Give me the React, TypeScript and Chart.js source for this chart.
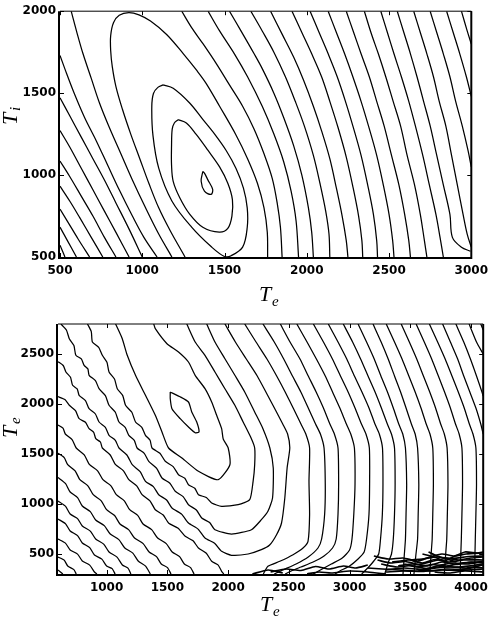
import React, { useEffect, useRef } from "react";
import { Chart, registerables } from "chart.js";
Chart.register(...registerables);

type Pt = [number, number];

// ---------------- Top panel (Te vs Ti) ----------------
const topXTicks = [500, 1000, 1500, 2000, 2500, 3000];
const topYTicks = [500, 1000, 1500, 2000];

const topLevel1: Pt[] = [[1368,1022],[1358,962],[1378,902],[1418,882],[1428,912],[1398,972],[1378,1012],[1368,1022]];
const topLevel2: Pt[] = [[1218,1338],[1268,1318],[1328,1248],[1400,1150],[1470,1050],[1520,950],[1548,850],[1545,750],[1520,675],[1468,652],[1368,682],[1288,762],[1228,862],[1188,962],[1178,1062],[1178,1180],[1182,1280],[1195,1318],[1218,1338]];
const topLevel3: Pt[] = [[1128,1550],[1188,1530],[1288,1440],[1368,1340],[1440,1250],[1510,1150],[1570,1040],[1615,920],[1638,800],[1638,680],[1610,560],[1540,508],[1500,503],[1420,562],[1300,682],[1180,842],[1100,1042],[1065,1242],[1058,1418],[1068,1498],[1095,1535],[1128,1550]];
const topLevel4: Pt[] = [[1260,500],[1170,660],[1100,800],[1040,950],[985,1100],[930,1250],[880,1400],[840,1540],[818,1660],[808,1760],[808,1850],[825,1930],[860,1975],[918,1992],[980,1978],[1050,1940],[1148,1858],[1250,1740],[1330,1640],[1388,1560],[1470,1420],[1568,1248],[1640,1100],[1700,950],[1740,800],[1760,650],[1762,500]];
const topLevel5a: Pt[] = [[568,2000],[600,1880],[640,1740],[690,1590],[740,1440],[800,1290],[870,1130],[940,970],[1020,800],[1100,640],[1180,500]];
const topLevel5b: Pt[] = [[1240,2000],[1300,1900],[1370,1800],[1450,1680],[1530,1550],[1610,1420],[1680,1280],[1740,1130],[1790,980],[1820,830],[1840,680],[1850,500]];
const topLevel6a: Pt[] = [[500,1730],[540,1620],[590,1490],[650,1350],[720,1210],[790,1060],[860,910],[940,750],[1010,620],[1090,500]];
const topLevel6b: Pt[] = [[1400,2000],[1470,1880],[1560,1740],[1640,1600],[1730,1418],[1800,1250],[1860,1080],[1905,900],[1935,720],[1950,500]];
const topLevel7a: Pt[] = [[500,1472],[560,1360],[630,1230],[700,1100],[770,970],[840,830],[920,670],[1000,500]];
const topLevel7b: Pt[] = [[1530,2000],[1600,1880],[1680,1740],[1730,1648],[1800,1500],[1860,1350],[1920,1180],[1970,1000],[2010,800],[2030,650],[2040,500]];
const topLevel8a: Pt[] = [[500,1272],[560,1170],[630,1040],[700,910],[770,780],[840,650],[920,500]];
const topLevel8b: Pt[] = [[1660,2000],[1730,1878],[1800,1750],[1870,1600],[1930,1450],[1985,1300],[2040,1120],[2080,950],[2115,780],[2135,640],[2140,500]];
const topLevel9a: Pt[] = [[500,1086],[560,990],[630,870],[700,750],[770,620],[840,500]];
const topLevel9b: Pt[] = [[1780,2000],[1850,1860],[1920,1720],[1980,1580],[2040,1420],[2090,1270],[2140,1100],[2180,920],[2215,750],[2240,600],[2250,500]];
const topLevel10a: Pt[] = [[500,932],[560,840],[620,740],[690,620],[760,500]];
const topLevel10b: Pt[] = [[1910,2000],[1970,1870],[2030,1740],[2090,1600],[2140,1450],[2190,1290],[2240,1110],[2280,930],[2315,750],[2335,600],[2340,500]];
const topLevel11a: Pt[] = [[500,792],[550,710],[610,610],[680,500]];
const topLevel11b: Pt[] = [[2020,2000],[2075,1870],[2130,1740],[2185,1600],[2235,1450],[2280,1300],[2330,1120],[2370,940],[2405,760],[2425,600],[2430,500]];
const topLevel12a: Pt[] = [[500,682],[545,600],[600,500]];
const topLevel12b: Pt[] = [[2130,2000],[2180,1870],[2230,1740],[2280,1600],[2330,1450],[2375,1300],[2425,1120],[2465,940],[2500,760],[2522,600],[2530,500]];
const topLevel13a: Pt[] = [[500,572],[530,500]];
const topLevel13b: Pt[] = [[2240,2000],[2285,1870],[2330,1740],[2380,1600],[2425,1450],[2470,1300],[2515,1120],[2560,940],[2595,760],[2620,600],[2630,500]];
const topLevel14: Pt[] = [[2350,2000],[2390,1870],[2435,1740],[2480,1600],[2525,1450],[2570,1300],[2610,1120],[2655,940],[2690,760],[2715,600],[2730,500]];
const topLevel15: Pt[] = [[2450,2000],[2490,1870],[2530,1740],[2575,1600],[2620,1450],[2660,1300],[2705,1120],[2745,940],[2785,760],[2810,620],[2830,500]];
const topLevel16: Pt[] = [[2550,2000],[2590,1870],[2630,1740],[2670,1600],[2710,1450],[2750,1300],[2790,1120],[2830,940],[2870,760],[2885,620],[2940,560],[2995,535]];
const topLevel17: Pt[] = [[2650,2000],[2690,1870],[2730,1740],[2770,1600],[2805,1450],[2845,1300],[2880,1120],[2915,940],[2950,760],[2975,640],[3000,560]];
const topLevel18: Pt[] = [[2750,2000],[2790,1870],[2830,1740],[2870,1600],[2905,1450],[2945,1300],[2980,1150],[3000,1050]];
const topLevel19: Pt[] = [[2850,2000],[2890,1870],[2930,1740],[2970,1600],[3000,1480]];
const topLevel20: Pt[] = [[2940,2000],[2975,1880],[3000,1800]];

const topContours: Pt[][] = [
  topLevel1, topLevel2, topLevel3, topLevel4, topLevel5a, topLevel5b, topLevel6a, topLevel6b,
  topLevel7a, topLevel7b, topLevel8a, topLevel8b, topLevel9a, topLevel9b, topLevel10a, topLevel10b,
  topLevel11a, topLevel11b, topLevel12a, topLevel12b, topLevel13a, topLevel13b, topLevel14, topLevel15,
  topLevel16, topLevel17, topLevel18, topLevel19, topLevel20,
];

// ---------------- Bottom panel (Te vs Te) ----------------
const botXTicks = [1000, 1500, 2000, 2500, 3000, 3500, 4000];
const botYTicks = [500, 1000, 1500, 2000, 2500];

const botLevel1: Pt[] = [[1524,2120],[1600,2075],[1674,2020],[1701,1920],[1742,1820],[1761,1720],[1729,1713],[1674,1770],[1606,1853],[1538,1953],[1524,2053],[1524,2120]];
const botLevel2: Pt[] = [[1074,2800],[1129,2653],[1170,2487],[1238,2287],[1320,2087],[1401,1887],[1456,1720],[1510,1560],[1620,1460],[1756,1327],[1919,1243],[2015,1393],[2001,1560],[1960,1650],[1947,1753],[1906,1887],[1865,2020],[1810,2153],[1729,2287],[1674,2420],[1592,2520],[1497,2603],[1401,2753],[1388,2800]];
const botLevel3: Pt[] = [[843,2800],[874,2724],[883,2620],[935,2567],[965,2487],[1003,2417],[1020,2320],[1065,2250],[1088,2153],[1133,2084],[1156,1987],[1208,1917],[1238,1820],[1290,1767],[1320,1687],[1358,1637],[1374,1560],[1439,1507],[1483,1427],[1548,1374],[1592,1293],[1644,1257],[1674,1193],[1726,1157],[1756,1093],[1821,1065],[1865,1010],[1947,977],[2083,993],[2178,1043],[2206,1227],[2219,1393],[2219,1560],[2192,1653],[2124,1820],[2056,1987],[1974,2153],[1892,2320],[1810,2487],[1729,2620],[1660,2800]];
const botLevel4: Pt[] = [[624,2800],[669,2740],[693,2653],[731,2584],[747,2487],[792,2451],[815,2387],[846,2351],[856,2287],[908,2234],[938,2153],[990,2084],[1020,1987],[1072,1917],[1102,1820],[1153,1767],[1183,1687],[1228,1637],[1251,1560],[1310,1507],[1347,1427],[1412,1357],[1456,1260],[1521,1207],[1565,1127],[1630,1074],[1674,993],[1739,940],[1783,860],[1848,815],[1892,743],[2028,700],[2192,743],[2274,843],[2328,927],[2366,1060],[2372,1360],[2344,1560],[2287,1753],[2219,1920],[2137,2120],[2056,2287],[1974,2453],[1892,2620],[1824,2800]];
const botLevel5: Pt[] = [[600,2423],[643,2385],[665,2320],[703,2267],[720,2187],[758,2151],[774,2087],[826,2034],[856,1953],[908,1900],[938,1820],[990,1767],[1020,1687],[1072,1637],[1102,1560],[1167,1490],[1211,1393],[1276,1324],[1320,1227],[1385,1174],[1429,1093],[1494,1040],[1538,960],[1617,899],[1674,810],[1753,749],[1810,660],[1889,607],[1947,527],[2028,487],[2165,500],[2274,543],[2342,590],[2399,693],[2440,810],[2467,1060],[2486,1360],[2508,1560],[2490,1700],[2450,1800],[2390,1940],[2320,2100],[2240,2280],[2150,2450],[2060,2620],[1974,2800]];
const botLevel6a: Pt[] = [[600,2073],[657,2044],[693,1987],[744,1934],[774,1853],[826,1817],[856,1753],[894,1717],[911,1653],[949,1620],[965,1560],[1030,1490],[1074,1393],[1139,1332],[1183,1243],[1248,1182],[1292,1093],[1357,1032],[1401,943],[1466,890],[1510,810],[1589,757],[1647,677],[1712,632],[1756,560],[1821,507],[1865,427],[1917,391],[1947,327],[1965,300]];
const botLevel6b: Pt[] = [[2290,300],[2328,377],[2426,427],[2535,493],[2617,560],[2658,627],[2671,893],[2666,1227],[2671,1560],[2640,1700],[2600,1800],[2540,1950],[2470,2120],[2400,2280],[2320,2450],[2230,2620],[2137,2800]];
const botLevel7a: Pt[] = [[600,1790],[641,1759],[660,1700],[716,1644],[750,1560],[816,1491],[860,1393],[926,1332],[970,1243],[1036,1182],[1080,1093],[1146,1032],[1190,943],[1256,886],[1300,800],[1371,744],[1420,660],[1491,604],[1540,520],[1601,474],[1640,400],[1691,364],[1720,300]];
const botLevel7b: Pt[] = [[2380,300],[2450,340],[2560,400],[2660,470],[2740,560],[2770,650],[2795,900],[2800,1200],[2790,1560],[2760,1700],[2720,1800],[2660,1960],[2599,2120],[2530,2280],[2458,2450],[2380,2620],[2287,2800]];
const botLevel8a: Pt[] = [[600,1507],[651,1464],[680,1393],[741,1332],[780,1243],[846,1182],[890,1093],[956,1032],[1000,943],[1066,885],[1110,800],[1181,744],[1230,660],[1301,604],[1350,520],[1411,474],[1450,400],[1501,364],[1530,300]];
const botLevel8b: Pt[] = [[2470,300],[2520,330],[2600,370],[2700,420],[2790,480],[2860,560],[2890,650],[2905,900],[2910,1200],[2905,1560],[2875,1700],[2838,1800],[2785,1960],[2725,2120],[2660,2280],[2592,2450],[2510,2620],[2430,2800]];
const botLevel9a: Pt[] = [[600,1265],[661,1206],[700,1120],[761,1064],[800,980],[866,924],[910,840],[981,784],[1030,700],[1101,644],[1150,560],[1216,509],[1260,430],[1321,379],[1360,300]];
const botLevel9b: Pt[] = [[2700,300],[2760,340],[2850,400],[2940,460],[3000,540],[3020,650],[3035,900],[3045,1200],[3040,1560],[3010,1700],[2974,1800],[2920,1960],[2860,2120],[2800,2280],[2727,2450],[2650,2620],[2566,2800]];
const botLevel10a: Pt[] = [[600,1030],[661,979],[700,900],[761,854],[800,780],[866,729],[910,650],[976,599],[1020,520],[1086,469],[1130,390],[1176,359],[1200,300]];
const botLevel10b: Pt[] = [[2880,300],[2920,330],[3000,380],[3070,450],[3120,520],[3140,650],[3160,900],[3165,1200],[3163,1560],[3135,1700],[3098,1800],[3045,1960],[2988,2120],[2925,2280],[2859,2450],[2785,2620],[2702,2800]];
const botLevel11a: Pt[] = [[600,850],[661,804],[700,730],[761,684],[800,610],[861,564],[900,490],[961,449],[1000,380],[1046,354],[1070,300]];
const botLevel11b: Pt[] = [[3100,300],[3150,360],[3200,430],[3240,500],[3255,650],[3270,900],[3275,1200],[3271,1560],[3245,1700],[3209,1800],[3160,1960],[3102,2120],[3040,2280],[2977,2450],[2905,2620],[2825,2800]];
const botLevel12a: Pt[] = [[600,650],[661,609],[700,540],[761,499],[800,430],[861,389],[900,320],[920,300]];
const botLevel12b: Pt[] = [[3290,300],[3320,420],[3345,500],[3360,650],[3370,900],[3375,1200],[3370,1560],[3345,1700],[3311,1800],[3262,1960],[3210,2120],[3152,2280],[3091,2450],[3025,2620],[2948,2800]];
const botLevel13a: Pt[] = [[600,470],[651,439],[680,380],[731,344],[750,300]];
const botLevel13b: Pt[] = [[3440,300],[3450,480],[3460,650],[3465,900],[3470,1200],[3460,1560],[3438,1700],[3405,1800],[3360,1960],[3312,2120],[3258,2280],[3203,2450],[3140,2620],[3070,2800]];
const botLevel14a: Pt[] = [[600,340],[640,300]];
const botLevel14b: Pt[] = [[3530,300],[3545,480],[3560,650],[3565,900],[3570,1200],[3560,1560],[3540,1700],[3509,1800],[3465,1960],[3420,2120],[3370,2280],[3318,2450],[3260,2620],[3193,2800]];
const botLevel15: Pt[] = [[3660,300],[3670,480],[3680,650],[3685,900],[3690,1200],[3685,1560],[3662,1700],[3631,1800],[3588,1960],[3540,2120],[3488,2280],[3432,2450],[3370,2620],[3302,2800]];
const botLevel16: Pt[] = [[3780,300],[3790,480],[3800,650],[3805,900],[3810,1200],[3803,1560],[3780,1700],[3750,1800],[3708,1960],[3660,2120],[3608,2280],[3553,2450],[3492,2620],[3425,2800]];
const botLevel17: Pt[] = [[3910,300],[3915,480],[3920,650],[3925,900],[3930,1200],[3925,1560],[3902,1700],[3872,1800],[3830,1960],[3782,2120],[3731,2280],[3676,2450],[3615,2620],[3548,2800]];
const botLevel18: Pt[] = [[4030,300],[4032,480],[4035,650],[4040,900],[4045,1200],[4040,1560],[4016,1700],[3986,1800],[3944,1960],[3895,2120],[3843,2280],[3787,2450],[3725,2620],[3657,2800]];
const botLevel19: Pt[] = [[4100,1700],[4080,1800],[4040,1960],[3990,2120],[3940,2280],[3890,2450],[3830,2620],[3766,2800]];
const botLevel20: Pt[] = [[4100,2080],[4090,2120],[4045,2280],[3995,2450],[3940,2620],[3875,2800]];
const botLevel21: Pt[] = [[4100,2500],[4045,2620],[3984,2800]];
const botLevel22: Pt[] = [[4100,2740],[4080,2800]];

const botContours: Pt[][] = [
  botLevel1, botLevel2, botLevel3, botLevel4, botLevel5, botLevel6a, botLevel6b, botLevel7a, botLevel7b,
  botLevel8a, botLevel8b, botLevel9a, botLevel9b, botLevel10a, botLevel10b, botLevel11a, botLevel11b,
  botLevel12a, botLevel12b, botLevel13a, botLevel13b, botLevel14a, botLevel14b, botLevel15, botLevel16,
  botLevel17, botLevel18, botLevel19, botLevel20, botLevel21, botLevel22,
];

// noisy low-temperature band near the bottom edge
const botBand1: Pt[] = [[3200,480],[3320,450],[3440,460],[3560,430],[3660,470],[3760,500],[3860,480],[3960,500],[4100,510]];
const botBand2: Pt[] = [[3230,440],[3340,410],[3460,425],[3570,395],[3690,430],[3800,455],[3900,440],[4000,460],[4100,470]];
const botBand3: Pt[] = [[3260,400],[3390,370],[3510,385],[3630,355],[3750,390],[3860,410],[3970,400],[4100,430]];
const botBand4: Pt[] = [[3150,360],[3270,350],[3410,340],[3560,330],[3710,360],[3830,370],[3960,360],[4100,390]];
const botBand5: Pt[] = [[3300,320],[3450,330],[3600,325],[3750,340],[3900,335],[4100,350]];
const botBand6: Pt[] = [[3400,380],[3520,400],[3640,380],[3760,420],[3880,395],[4000,420],[4100,410]];
const botBand7: Pt[] = [[3500,440],[3600,410],[3700,445],[3820,420],[3940,440],[4100,440]];
const botBand8: Pt[] = [[3350,420],[3480,440],[3600,450],[3720,470],[3850,455],[3980,475],[4100,480]];
const botBand9: Pt[] = [[3600,500],[3700,470],[3780,430],[3850,470],[3950,520],[4050,510],[4100,520]];
const botBand10: Pt[] = [[3650,520],[3720,480],[3800,450],[3880,420]];
const botBand11: Pt[] = [[3300,340],[3450,360],[3600,345],[3750,375],[3900,370],[4100,400]];
const botBand12: Pt[] = [[2350,320],[2480,350],[2600,335],[2720,375],[2830,350],[2950,380],[3050,360],[3150,390]];
const botBand13: Pt[] = [[2200,300],[2330,340],[2450,310]];
const botBand14: Pt[] = [[2650,300],[2750,320],[2850,310],[3000,330],[3150,320],[3300,300]];
const botBand15: Pt[] = [[3450,400],[3560,370],[3680,395],[3800,380],[3920,410],[4100,420]];
const botBand16: Pt[] = [[3550,350],[3680,330],[3800,350],[3920,345],[4040,365],[4100,360]];
const botBand17: Pt[] = [[3700,320],[3820,310],[3950,330],[4100,320]];

const botBands: Pt[][] = [
  botBand1, botBand2, botBand3, botBand4, botBand5, botBand6, botBand7, botBand8, botBand9,
  botBand10, botBand11, botBand12, botBand13, botBand14, botBand15, botBand16, botBand17,
];

const framePlugin = {
  id: "frame",
  afterDatasetsDraw(chart: any) {
    const { ctx, chartArea, scales } = chart;
    const { left, top, right, bottom } = chartArea;
    const x = scales.x, y = scales.y;
    ctx.save();
    ctx.strokeStyle = "#000";
    const seg = (x1: number, y1: number, x2: number, y2: number, w: number) => {
      ctx.lineWidth = w;
      ctx.beginPath();
      ctx.moveTo(x1, y1);
      ctx.lineTo(x2, y2);
      ctx.stroke();
    };
    seg(left, top, right, top, 1);
    seg(right, top, right, bottom, 2);
    seg(left - 1, top, left - 1, bottom + 1, 2);
    seg(left - 2, bottom + 1, right + 1, bottom + 1, 2);
    const L = 4;
    x.ticks.forEach((t: any) => {
      const px = Math.round(x.getPixelForValue(t.value)) + 0.5;
      seg(px, bottom, px, bottom - L, 1);
      seg(px, top, px, top + L, 1);
    });
    y.ticks.forEach((t: any) => {
      const py = Math.round(y.getPixelForValue(t.value)) + 0.5;
      seg(left, py, left + L, py, 1);
      seg(right, py, right - L, py, 1);
    });
    ctx.restore();
  },
};

type PanelProps = {
  canvasTop: number; width: number; height: number;
  plotLeft: number; plotTop: number; plotRight: number; plotBottom: number;
  xMin: number; xMax: number; yMin: number; yMax: number;
  xTicks: number[]; yTicks: number[]; lines: Pt[][]; bands?: Pt[][]; tension: number;
};

function ContourPanel(p: PanelProps) {
  const ref = useRef<HTMLCanvasElement>(null);
  useEffect(() => {
    if (!ref.current) return;
    const tickFont = { family: "'DejaVu Sans', sans-serif", size: 12, weight: "bold" as const };
    const mk = (pts: Pt[], w: number) => ({
      data: pts.map(([x, y]) => ({ x, y })),
      showLine: true,
      pointRadius: 0,
      pointHoverRadius: 0,
      borderColor: "#000",
      borderWidth: w,
      tension: p.tension,
      fill: false,
    });
    const chart = new Chart(ref.current, {
      type: "scatter",
      data: {
        datasets: [
          ...p.lines.map((pts) => mk(pts, 1.25)),
          ...(p.bands || []).map((pts) => mk(pts, 1.7)),
        ],
      },
      options: {
        animation: false,
        responsive: false,
        events: [],
        layout: { padding: { left: 0, top: p.plotTop, right: p.width - p.plotRight, bottom: 0 } },
        plugins: { legend: { display: false }, tooltip: { enabled: false } },
        scales: {
          x: {
            type: "linear",
            min: p.xMin,
            max: p.xMax,
            afterBuildTicks: (s: any) => { s.ticks = p.xTicks.map((v) => ({ value: v })); },
            afterFit: (s: any) => { s.height = p.height - p.plotBottom; },
            grid: { display: false, drawTicks: false },
            border: { display: false },
            ticks: { color: "#000", font: tickFont, padding: 7, maxRotation: 0, autoSkip: false, callback: (v: any) => String(v) },
          },
          y: {
            type: "linear",
            min: p.yMin,
            max: p.yMax,
            afterBuildTicks: (s: any) => { s.ticks = p.yTicks.map((v) => ({ value: v })); },
            afterFit: (s: any) => { s.width = p.plotLeft; },
            grid: { display: false, drawTicks: false },
            border: { display: false },
            ticks: { color: "#000", font: tickFont, padding: 4, autoSkip: false, callback: (v: any) => String(v) },
          },
        },
      },
      plugins: [framePlugin],
    });
    return () => chart.destroy();
  }, []);
  return (
    <canvas
      ref={ref}
      width={p.width}
      height={p.height}
      style={{ position: "absolute", left: 0, top: p.canvasTop, width: p.width, height: p.height }}
    />
  );
}

const serif = "'Liberation Serif', 'Times New Roman', serif";

function HLabel({ left, top, main, sub }: { left: number; top: number; main: string; sub: string }) {
  return (
    <div style={{ position: "absolute", left, top, fontFamily: serif, fontStyle: "italic", lineHeight: 1, whiteSpace: "nowrap" }}>
      <span style={{ position: "absolute", left: 0, top: 0, fontSize: 22 }}>{main}</span>
      <span style={{ position: "absolute", left: 13, top: 11, fontSize: 15 }}>{sub}</span>
    </div>
  );
}

function VLabel({ left, top, main, sub }: { left: number; top: number; main: string; sub: string }) {
  return (
    <div
      style={{
        position: "absolute", left, top, width: 40, height: 30,
        transform: "rotate(-90deg)", transformOrigin: "0 0",
        fontFamily: serif, fontStyle: "italic", lineHeight: 1, whiteSpace: "nowrap",
      }}
    >
      <span style={{ position: "absolute", left: 0, top: 0, fontSize: 22 }}>{main}</span>
      <span style={{ position: "absolute", left: 14, top: 9, fontSize: 15 }}>{sub}</span>
    </div>
  );
}

export default function App() {
  return (
    <div style={{ position: "absolute", left: 0, top: 0, width: 495, height: 626, background: "#fff", overflow: "hidden" }}>
      <ContourPanel
        canvasTop={0} width={495} height={312}
        plotLeft={60} plotTop={7} plotRight={477} plotBottom={257}
        xMin={500} xMax={3000} yMin={500} yMax={2000}
        xTicks={topXTicks} yTicks={topYTicks} lines={topContours} tension={0.35}
      />
      <ContourPanel
        canvasTop={312} width={495} height={314}
        plotLeft={58} plotTop={12} plotRight={486} plotBottom={262}
        xMin={600} xMax={4100} yMin={300} yMax={2800}
        xTicks={botXTicks} yTicks={botYTicks} lines={botContours} bands={botBands} tension={0.2}
      />
      <HLabel left={259} top={283} main="T" sub="e" />
      <VLabel left={-1} top={125} main="T" sub="i" />
      <HLabel left={260} top={593} main="T" sub="e" />
      <VLabel left={-1} top={438} main="T" sub="e" />
    </div>
  );
}
